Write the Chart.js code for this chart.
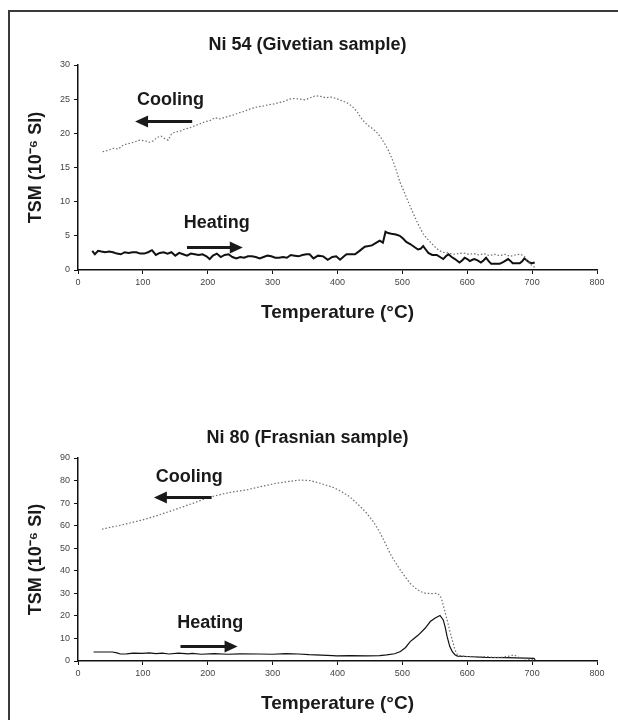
<!DOCTYPE html>
<html lang="en">
  <head>
    <meta charset="UTF-8" />
    <title>TSM heating and cooling curves</title>
    <script src="https://cdn.jsdelivr.net/npm/chart.js@4"></script>
    <style>
      html, body { margin: 0; padding: 0; background: #fff; overflow: hidden; width: 618px; height: 720px; }
      #frame { position: absolute; left: 8px; top: 10px; width: 700px; height: 800px; border: 2px solid #3a3a3a; }
      .box { position: absolute; left: 0; width: 618px; }
    </style>
  </head>
  <body>
    <div id="frame"></div>
    <div class="box" style="top:0;height:352px"><canvas id="chartTop"></canvas></div>
    <div class="box" style="top:393px;height:327px"><canvas id="chartBottom"></canvas></div>

    <script>
      // Ni 54 (Givetian) - heating run
      const ni54HeatT = [22,26,31,36,42,48,54,60,66,72,78,84,90,96,102,108,114,120,126,132,138,144,150,156,162,168,174,180,186,192,198,203,208,214,220,226,232,238,244,250,256,262,268,274,280,286,292,298,304,310,316,322,328,334,340,346,352,357,363,370,378,385,392,398,404,410,414,420,427,434,442,448,453,460,465,470,474,478,483,490,496,501,506,512,518,524,528,532,536,540,546,553,558,563,567,571,576,581,588,592,596,600,604,608,611,616,621,625,629,633,637,644,650,656,663,667,670,676,681,685,688,692,696,700,704];
      const ni54HeatK = [2.8,2.3,2.8,2.7,2.6,2.7,2.6,2.4,2.3,2.6,2.5,2.6,2.6,2.4,2.4,2.6,2.9,2.2,2.5,2.6,2.4,2.6,2.1,2.5,2.3,2.1,2.4,2.3,2.2,2.3,2.0,1.6,2.1,2.4,1.9,2.2,2.3,1.9,1.7,1.9,1.8,2.0,2.0,1.9,1.7,1.9,2.1,2.0,1.8,1.8,1.9,1.8,2.2,2.1,2.0,2.2,2.3,2.3,1.7,2.1,2.0,1.5,1.9,2.0,1.5,2.0,2.3,2.3,2.3,2.8,3.4,3.5,3.6,4.0,4.3,4.0,5.6,5.4,5.3,5.2,5.0,4.6,4.1,3.8,3.4,3.0,3.1,3.5,3.0,2.5,2.2,2.2,1.9,1.6,2.0,2.3,1.9,1.6,1.1,1.4,1.8,1.6,1.3,1.5,1.6,1.4,1.1,1.4,1.8,1.3,0.9,0.9,0.9,1.2,1.6,1.3,1.0,1.0,1.0,1.3,1.7,1.4,1.1,1.0,1.1];

      // Ni 54 (Givetian) - cooling run
      const ni54CoolT = [38,46,54,62,70,78,86,95,103,110,116,122,128,134,139,144,150,157,164,172,180,188,196,204,211,218,225,232,240,248,256,263,270,278,286,294,302,310,318,326,334,342,350,358,366,374,382,390,398,406,414,422,430,436,442,448,454,460,466,472,478,484,490,496,502,508,514,520,526,532,538,544,550,556,562,570,578,586,594,602,610,618,626,634,642,650,658,666,674,682,688,694,700,704];
      const ni54CoolK = [17.3,17.5,17.8,17.7,18.3,18.5,18.7,19.0,18.9,18.7,18.9,19.4,19.6,19.2,19.0,19.9,20.2,20.3,20.6,20.8,21.1,21.4,21.7,21.9,22.3,22.1,22.3,22.5,22.7,23.0,23.2,23.5,23.7,23.9,24.0,24.2,24.3,24.5,24.7,25.0,25.1,25.0,24.9,25.2,25.5,25.4,25.2,25.3,25.1,24.8,24.5,24.0,23.2,22.3,21.6,21.1,20.7,20.2,19.5,18.6,17.6,16.3,14.8,12.9,11.6,10.2,8.9,7.6,6.4,5.3,4.6,4.0,3.4,2.9,2.6,2.5,2.3,2.4,2.5,2.3,2.4,2.2,2.4,2.1,2.3,2.1,2.3,2.0,2.2,2.3,2.0,1.2,0.6,0.4];

      // Ni 80 (Frasnian) - heating run
      const ni80HeatT = [24,40,53,60,65,75,85,99,110,120,130,140,155,170,176,190,210,230,250,279,300,320,340,356,375,393,398,420,445,465,476,488,497,505,512,518,525,535,543,550,558,563,566,569,573,577,581,585,600,627,660,690,703,705];
      const ni80HeatK = [4.0,4.0,4.0,3.6,3.1,3.2,3.5,3.4,3.6,3.3,3.5,3.1,3.5,3.2,3.4,3.0,3.3,3.0,3.2,3.1,3.0,3.3,3.1,2.8,2.6,2.4,2.3,2.4,2.3,2.4,2.7,3.2,4.2,6.0,8.6,10.0,11.6,14.5,17.5,19.0,20.2,18.2,15.0,10.8,6.5,4.1,2.8,2.2,2.0,1.6,1.5,1.3,1.2,0.2];

      // Ni 80 (Frasnian) - cooling run
      const ni80CoolT = [37,50,63,80,99,120,140,160,180,197,215,235,259,280,306,325,342,358,373,393,405,419,435,445,456,466,474,481,489,497,505,512,520,528,536,546,554,558,561,565,569,573,577,581,585,592,600,610,620,630,640,652,662,672,678,683,692,700,703];
      const ni80CoolK = [58.4,59.3,60.0,61.2,62.5,64.3,66.2,68.2,70.2,72.1,73.5,74.8,75.8,77.2,78.8,79.6,80.2,80.0,78.8,77.0,75.3,72.8,68.5,65.5,61.5,56.6,52.0,47.7,43.8,40.3,37.0,34.4,32.3,30.8,30.0,29.9,30.0,29.0,27.0,22.5,18.2,13.5,9.3,5.0,2.7,2.2,1.9,2.0,1.7,2.0,1.6,1.6,2.0,2.7,1.8,1.2,0.9,0.6,0.4];

      const FONT = "'Liberation Sans', Arial, sans-serif";

      function pts(xs, ys) {
        return xs.map((x, i) => ({ x: x, y: ys[i] }));
      }

      // draws the Cooling / Heating labels with their arrows, placed in data units
      const arrowNotes = {
        id: 'arrowNotes',
        afterDatasetsDraw(chart, args, opts) {
          const ctx = chart.ctx;
          const xs = chart.scales.x, ys = chart.scales.y;
          ctx.save();
          ctx.fillStyle = '#1a1a1a';
          ctx.strokeStyle = '#1a1a1a';
          ctx.font = 'bold 18px ' + FONT;
          ctx.textBaseline = 'middle';
          ctx.textAlign = 'left';
          (opts.notes || []).forEach(n => {
            ctx.fillText(n.text, xs.getPixelForValue(n.tx), ys.getPixelForValue(n.ty));
            const x1 = xs.getPixelForValue(n.from), x2 = xs.getPixelForValue(n.to);
            const y = Math.round(ys.getPixelForValue(n.ay)) + 0.5;
            const dir = x2 > x1 ? 1 : -1;
            ctx.lineWidth = 3;
            ctx.beginPath();
            ctx.moveTo(x1, y);
            ctx.lineTo(x2 - dir * 10, y);
            ctx.stroke();
            ctx.beginPath();
            ctx.moveTo(x2, y);
            ctx.lineTo(x2 - dir * 13, y - 6);
            ctx.lineTo(x2 - dir * 13, y + 6);
            ctx.closePath();
            ctx.fill();
          });
          ctx.restore();
        }
      };

      function makeChart(id, title, heat, cool, yMax, yStep, heatWidth, padBottom, notes) {
        const ctx = document.getElementById(id).getContext('2d');
        return new Chart(ctx, {
          type: 'line',
          data: {
            datasets: [
              {
                label: 'Cooling',
                data: cool,
                borderColor: '#6e6e6e',
                borderWidth: 1.2,
                borderDash: [1.5, 2],
                pointRadius: 0,
                fill: false,
                tension: 0
              },
              {
                label: 'Heating',
                data: heat,
                borderColor: '#111',
                borderWidth: heatWidth,
                pointRadius: 0,
                fill: false,
                tension: 0
              }
            ]
          },
          options: {
            responsive: true,
            maintainAspectRatio: false,
            animation: false,
            layout: { padding: { top: 34, left: 18, right: 21, bottom: padBottom } },
            plugins: {
              legend: { display: false },
              tooltip: { enabled: false },
              title: {
                display: true,
                text: title,
                color: '#1a1a1a',
                font: { family: FONT, size: 18, weight: 'bold' },
                padding: { top: 0, bottom: 9.4 }
              },
              arrowNotes: { notes: notes }
            },
            scales: {
              x: {
                type: 'linear',
                min: 0,
                max: 800,
                afterFit: s => { s.height = 54; },
                ticks: { stepSize: 100, color: '#444', font: { family: FONT, size: 9 }, padding: 3 },
                grid: { drawOnChartArea: false, tickLength: 4, color: '#111', tickWidth: 1 },
                border: { color: '#111', width: 1.5 },
                title: {
                  display: true,
                  text: 'Temperature (°C)',
                  color: '#1a1a1a',
                  font: { family: FONT, size: 19, weight: 'bold' },
                  padding: { top: 0, bottom: 0 }
                }
              },
              y: {
                min: 0,
                max: yMax,
                afterFit: s => { s.width = 60; },
                ticks: { stepSize: yStep, color: '#444', font: { family: FONT, size: 9 }, padding: 4 },
                grid: { drawOnChartArea: false, tickLength: 4, color: '#111', tickWidth: 1 },
                border: { color: '#111', width: 1.5 },
                title: {
                  display: true,
                  text: 'TSM (10⁻⁶ SI)',
                  color: '#1a1a1a',
                  font: { family: FONT, size: 18, weight: 'bold' },
                  padding: { top: 7, bottom: 0 }
                }
              }
            }
          },
          plugins: [arrowNotes]
        });
      }

      makeChart('chartTop', 'Ni 54 (Givetian sample)',
        pts(ni54HeatT, ni54HeatK), pts(ni54CoolT, ni54CoolK), 30, 5, 2, 28,
        [
          { text: 'Cooling', tx: 91, ty: 24.9, from: 176, to: 88, ay: 21.8 },
          { text: 'Heating', tx: 163, ty: 6.9, from: 168, to: 254, ay: 3.4 }
        ]);

      makeChart('chartBottom', 'Ni 80 (Frasnian sample)',
        pts(ni80HeatT, ni80HeatK), pts(ni80CoolT, ni80CoolK), 90, 10, 1.2, 5,
        [
          { text: 'Cooling', tx: 120, ty: 81.6, from: 206, to: 117, ay: 72.7 },
          { text: 'Heating', tx: 153, ty: 16.8, from: 158, to: 246, ay: 6.6 }
        ]);
    </script>
  </body>
</html>
